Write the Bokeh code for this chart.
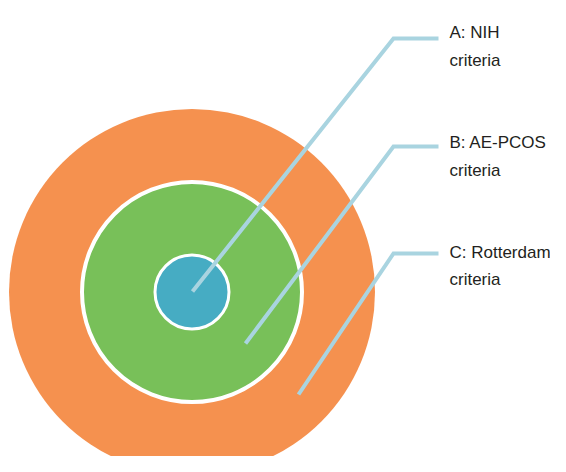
from bokeh.plotting import figure
from bokeh.models import Range1d, ColumnDataSource
from bokeh.core.properties import value
from bokeh.embed import file_html
from bokeh.resources import INLINE

# Data
labels_1 = ["A: NIH", "B: AE-PCOS", "C: Rotterdam"]
labels_2 = ["criteria", "criteria", "criteria"]
set_radius = [37, 110, 183]          # A (inner), B (middle), C (outer)
set_colors = ["#46acc3", "#78c059", "#f5914f"]

# Layout (reference pixel coordinates)
cx, cy = 191.5, 291.5
anchor_x = [192, 245, 298]
anchor_y = [291, 343, 394]
elbow_x = 393
elbow_y = [38, 146, 253]
end_x = 438
text_x = 449
text_y1 = [32, 142, 252]
text_y2 = [60, 170, 279]

W, H = 550, 456
p = figure(width=W, height=H, output_backend="svg", toolbar_location=None,
           x_range=Range1d(0, W), y_range=Range1d(H, 0),
           min_border=0, min_border_left=0, min_border_right=0,
           min_border_top=0, min_border_bottom=0)
p.axis.visible = False
p.grid.visible = False
p.outline_line_color = None
p.background_fill_color = "white"
p.border_fill_color = "white"

# outer (C)
p.circle(x=[cx], y=[cy], radius=set_radius[2], fill_color=set_colors[2], line_color=None)
# middle (B)
p.circle(x=[cx], y=[cy], radius=set_radius[1], fill_color=set_colors[1],
         line_color="white", line_width=4)
# inner (A)
p.circle(x=[cx], y=[cy], radius=set_radius[0], fill_color=set_colors[0],
         line_color="white", line_width=3)

xs = [[ax, elbow_x, end_x] for ax in anchor_x]
ys = [[ay, ey, ey] for ay, ey in zip(anchor_y, elbow_y)]
p.multi_line(xs=xs, ys=ys, line_color="#a9d4e0", line_width=4, line_cap="butt",
             line_join="miter")

src = ColumnDataSource(dict(x=[text_x] * 3, y1=text_y1, y2=text_y2, t1=labels_1, t2=labels_2))
for ycol, tcol in (("y1", "t1"), ("y2", "t2")):
    p.text(x="x", y=ycol, text=tcol, source=src, text_font=value("Liberation Sans"),
           text_font_size="17px", text_color="#231f20", text_align="left",
           text_baseline="alphabetic")

open("out.html", "w").write(file_html(p, INLINE))
